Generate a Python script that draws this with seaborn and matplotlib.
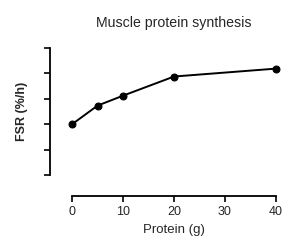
import matplotlib
matplotlib.use("Agg")
import matplotlib.pyplot as plt
import seaborn as sns
import pandas as pd

protein_g = [0, 5, 10, 20, 40]
fsr = [2.0, 2.73, 3.12, 3.87, 4.18]
x_ticks = [0, 10, 20, 30, 40]
y_ticks = [0, 1, 2, 3, 4, 5]

sns.set_style("ticks")
plt.rcParams['font.family'] = ['Liberation Sans', 'DejaVu Sans']

df = pd.DataFrame({"Protein (g)": protein_g, "FSR": fsr})

fig = plt.figure(figsize=(3.0, 2.49), dpi=100)
ax = fig.add_axes([0.223, 0.2855, 0.714, 0.5333])
sns.lineplot(data=df, x="Protein (g)", y="FSR", ax=ax, color="black",
             marker="o", markersize=5, linewidth=1.4, markeredgecolor="black")
for l in ax.lines:
    l.set_clip_on(False)

ax.set_xlim(-1, 41)
ax.set_ylim(-0.1, 5.1)
ax.set_xticks(x_ticks)
ax.set_yticks(y_ticks)
ax.set_yticklabels([])
for s in ["top", "right"]:
    ax.spines[s].set_visible(False)
ax.spines["left"].set_position(("outward", 12.2))
ax.spines["bottom"].set_position(("outward", 13))
ax.spines["left"].set_bounds(0, 5)
ax.spines["bottom"].set_bounds(0, 40)
for s in ["left", "bottom"]:
    ax.spines[s].set_linewidth(1.3)
    ax.spines[s].set_color("black")
ax.tick_params(axis="both", length=4, width=1.2, color="black", labelsize=9, pad=3)
ax.set_xlabel("Protein (g)", fontsize=9.5, labelpad=4.5)
ax.set_ylabel("FSR (%/h)", fontsize=9, fontweight="bold", labelpad=8.5)
ax.set_title("Muscle protein synthesis", fontsize=10.2, pad=13)

fig.savefig("out.png", dpi=100)
